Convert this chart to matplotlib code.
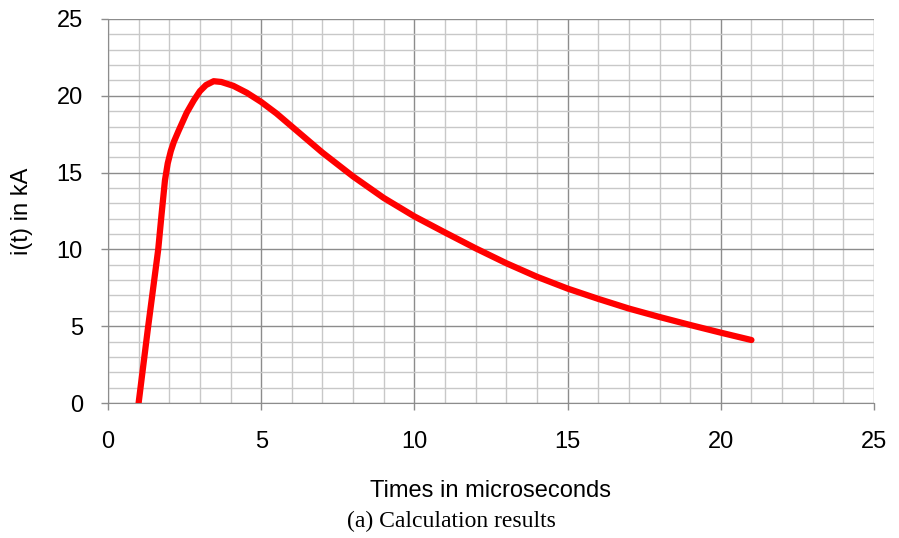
import matplotlib.pyplot as plt
from matplotlib.ticker import MultipleLocator

# values
time_us = [1.0, 1.3, 1.64, 1.75, 1.86, 1.95, 2.05, 2.15, 2.3, 2.57, 2.8, 3.0, 3.2, 3.45,
           3.7, 4.09, 4.53, 5, 5.5, 6, 7, 8, 9, 10, 11, 12, 13, 14, 15, 16, 17, 18,
           19, 20, 21]
current_ka = [0.0, 4.8, 10.0, 12.3, 14.5, 15.6, 16.4, 17.0, 17.7, 18.9, 19.7, 20.3, 20.7,
              20.95, 20.9, 20.65, 20.2, 19.6, 18.85, 18.0, 16.3, 14.75, 13.35, 12.15,
              11.1, 10.07, 9.1, 8.22, 7.45, 6.78, 6.15, 5.6, 5.08, 4.58, 4.1]

plt.rcParams['font.family'] = ['Liberation Sans', 'DejaVu Sans']

fig = plt.figure(figsize=(8.99, 5.38), dpi=100)
ax = fig.add_axes([0.1201, 0.2509, 0.8521, 0.7138])

ax.plot(time_us, current_ka, color='#ff0000', linewidth=4.5,
        solid_capstyle='round', solid_joinstyle='round', zorder=3)

ax.set_xlim(0, 25)
ax.set_ylim(0, 25)
ax.xaxis.set_major_locator(MultipleLocator(5))
ax.yaxis.set_major_locator(MultipleLocator(5))
ax.xaxis.set_minor_locator(MultipleLocator(1))
ax.yaxis.set_minor_locator(MultipleLocator(1))
ax.grid(which='minor', color='#c8c8c8', linewidth=1.0)
ax.grid(which='major', color='#8c8c8c', linewidth=1.0)
ax.set_axisbelow(True)

ax.tick_params(which='major', direction='out', length=5, width=1, color='#8c8c8c',
               labelsize=17)
ax.tick_params(axis='x', which='major', pad=15)
ax.tick_params(axis='y', which='major', pad=13)
ax.tick_params(which='minor', length=0)
for side in ['top', 'right']:
    ax.spines[side].set_visible(False)
for side in ['left', 'bottom']:
    ax.spines[side].set_color('#8c8c8c')

ax.set_xlabel('Times in microseconds', fontsize=17, va='center')
ax.xaxis.set_label_coords(0.5, -0.228)
ax.set_ylabel('i(t) in kA', fontsize=17, va='center', ha='center')
ax.yaxis.set_label_coords(-0.1123, 0.5)

fig.text(0.502, 1 - 521 / 538, '(a) Calculation results', ha='center', va='center',
         fontsize=17, family='Liberation Serif')

plt.savefig('out.png', dpi=100)
